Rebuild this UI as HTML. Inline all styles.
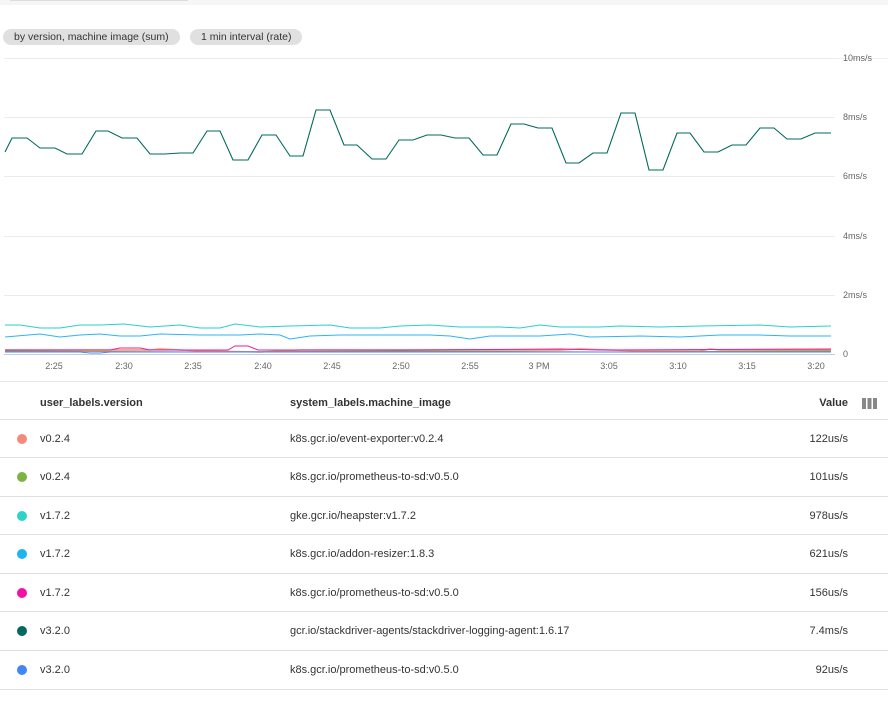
<!DOCTYPE html>
<html><head><style>
body{margin:0;width:888px;height:703px;background:#fff;font-family:"Liberation Sans",sans-serif;position:relative;overflow:hidden;color:#333}
.top{position:absolute;left:0;top:0;width:888px;height:5px;background:#f6f6f6}
.chip{position:absolute;top:29px;height:16px;line-height:16px;background:#e0e0e0;border-radius:8px;font-size:10.5px;color:#333;padding:0 11px}
.row{position:absolute;left:0;width:888px;height:38px;border-top:1px solid #e0e0e0;font-size:11px;color:#333}
.row span{position:absolute;top:13px}
.dot{position:absolute;left:17px;top:14px;width:10px;height:10px;border-radius:50%}
</style></head><body>
<div class="top"></div>
<div style="position:absolute;left:10px;top:0;width:178px;height:1px;background:#ddd"></div>
<div class="chip" style="left:3px">by version, machine image (sum)</div>
<div class="chip" style="left:190px">1 min interval (rate)</div>
<div style="position:absolute;left:4px;top:58px;width:884px;height:1px;background:#eee"></div>
<svg style="position:absolute;left:0;top:0" width="888" height="380" font-family="Liberation Sans" font-size="9" fill="#666">
<g stroke="#ececec" stroke-width="1">
<line x1="4" y1="58.5" x2="835" y2="58.5"/><line x1="4" y1="117.5" x2="835" y2="117.5"/><line x1="4" y1="176.5" x2="835" y2="176.5"/><line x1="4" y1="236.5" x2="835" y2="236.5"/><line x1="4" y1="295.5" x2="835" y2="295.5"/></g>
<line x1="4" y1="354.5" x2="835" y2="354.5" stroke="#ccc"/>
<text x="843" y="61">10ms/s</text><text x="843" y="120">8ms/s</text><text x="843" y="179">6ms/s</text><text x="843" y="239">4ms/s</text><text x="843" y="298">2ms/s</text><text x="843" y="357">0</text>
<g text-anchor="middle"><text x="54" y="369">2:25</text><text x="124" y="369">2:30</text><text x="193" y="369">2:35</text><text x="263" y="369">2:40</text><text x="332" y="369">2:45</text><text x="401" y="369">2:50</text><text x="470" y="369">2:55</text><text x="539" y="369">3 PM</text><text x="609" y="369">3:05</text><text x="678" y="369">3:10</text><text x="747" y="369">3:15</text><text x="816" y="369">3:20</text></g>
<polyline fill="none" stroke="#00695c" stroke-width="1.1" points="5,152 12,138 27,138 40,148 55,148 67,154 82,154 96,131 108,131 122,138 137,138 150,154 165,154 180,153 193,153 207,131 220,131 233,160 248,160 262,135 276,135 290,156 303,156 316,110 330,110 344,145 357,145 372,159 386,159 399,140 413,140 427,135 441,135 455,138 469,138 483,155 497,155 511,124 524,124 538,128 552,128 566,163 579,163 593,153 607,153 621,113 635,113 649,170 663,170 677,133 690,133 704,152 718,152 732,145 746,145 760,128 774,128 787,139 801,139 815,133 831,133"/>
<polyline fill="none" stroke="#26d0ce" stroke-width="1" points="5,325 20,325 40,328 60,328 80,325 100,325 124,324 150,327 180,325 200,328 220,328 235,324 260,327 290,326 330,325 350,328 380,328 400,326 430,325 460,327 500,327 520,328 540,325 560,327 600,327 620,326 660,327 700,326 760,325 790,327 831,326"/>
<polyline fill="none" stroke="#29b6f6" stroke-width="1" points="5,337 40,334 60,337 80,335 100,334 120,336 140,336 160,334 200,335 240,335 260,334 280,335 290,339 310,336 340,335 400,335 430,335 450,336 470,339 490,336 540,336 570,334 590,337 640,336 680,337 720,335 760,335 790,336 831,336"/>
<polyline fill="none" stroke="#ff8a65" stroke-width="1.5" points="5,350 150,350 160,349 200,351 260,352 300,350 400,350 560,350 580,349 640,351 700,351 710,349 720,350 831,350"/>
<polyline fill="none" stroke="#7cb342" stroke-width="1" points="5,351 200,352 400,351 600,352 831,351"/>
<polyline fill="none" stroke="#e91ea0" stroke-width="1" points="5,350 110,350 120,348 140,348 150,350 228,350 235,346 248,346 258,350 400,350 560,349 600,350 831,349"/>
<polyline fill="none" stroke="#4285f4" stroke-width="1" points="5,352 80,352 90,353 100,353 110,352 300,352 400,352 600,352 831,352"/>
</svg>
<div class="row" style="top:381px;border-top-color:#e6e6e6;font-weight:bold"><span style="left:40px;top:15px">user_labels.version</span><span style="left:290px;top:15px">system_labels.machine_image</span><span style="right:40px;top:15px">Value</span>
<div style="position:absolute;left:862px;top:16px;width:15px;height:11px;background:repeating-linear-gradient(90deg,#888 0 4px,#fff 4px 5.5px)"></div></div>
<div class="row" style="top:419px"><div class="dot" style="background:#f48a7a"></div><span style="left:40px">v0.2.4</span><span style="left:290px">k8s.gcr.io/event-exporter:v0.2.4</span><span style="right:40px">122us/s</span></div>
<div class="row" style="top:457px"><div class="dot" style="background:#7cb342"></div><span style="left:40px">v0.2.4</span><span style="left:290px">k8s.gcr.io/prometheus-to-sd:v0.5.0</span><span style="right:40px">101us/s</span></div>
<div class="row" style="top:496px"><div class="dot" style="background:#2fd2c8"></div><span style="left:40px">v1.7.2</span><span style="left:290px">gke.gcr.io/heapster:v1.7.2</span><span style="right:40px">978us/s</span></div>
<div class="row" style="top:534px"><div class="dot" style="background:#1eb4f0"></div><span style="left:40px">v1.7.2</span><span style="left:290px">k8s.gcr.io/addon-resizer:1.8.3</span><span style="right:40px">621us/s</span></div>
<div class="row" style="top:573px"><div class="dot" style="background:#f012a8"></div><span style="left:40px">v1.7.2</span><span style="left:290px">k8s.gcr.io/prometheus-to-sd:v0.5.0</span><span style="right:40px">156us/s</span></div>
<div class="row" style="top:611px"><div class="dot" style="background:#00695c"></div><span style="left:40px">v3.2.0</span><span style="left:290px">gcr.io/stackdriver-agents/stackdriver-logging-agent:1.6.17</span><span style="right:40px">7.4ms/s</span></div>
<div class="row" style="top:650px;border-bottom:1px solid #e0e0e0"><div class="dot" style="background:#4285f4"></div><span style="left:40px">v3.2.0</span><span style="left:290px">k8s.gcr.io/prometheus-to-sd:v0.5.0</span><span style="right:40px">92us/s</span></div>
</body></html>
